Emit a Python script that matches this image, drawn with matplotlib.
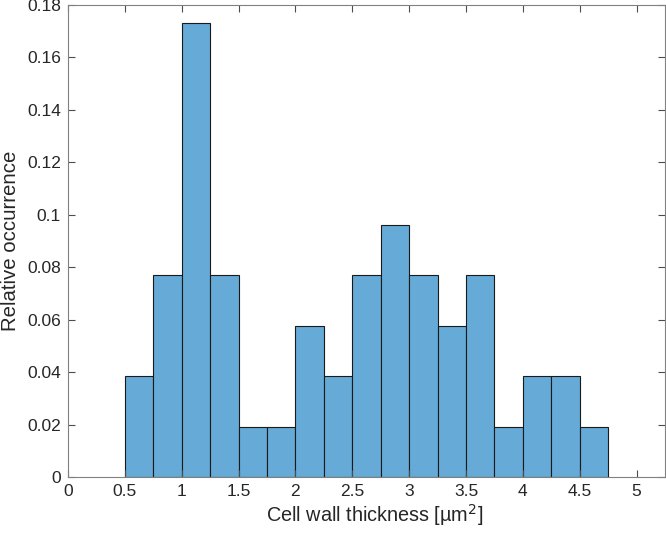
import matplotlib
matplotlib.use("Agg")
import matplotlib.pyplot as plt
import numpy as np

bin_edges = [0.5, 0.75, 1.0, 1.25, 1.5, 1.75, 2.0, 2.25, 2.5, 2.75, 3.0, 3.25, 3.5, 3.75, 4.0, 4.25, 4.5, 4.75]
counts = [2, 4, 9, 4, 1, 1, 3, 2, 4, 5, 4, 3, 4, 1, 2, 2, 1]
total = sum(counts)
rel = [c / total for c in counts]

x_ticks = [0, 0.5, 1, 1.5, 2, 2.5, 3, 3.5, 4, 4.5, 5]
x_ticklabels = ["0", "0.5", "1", "1.5", "2", "2.5", "3", "3.5", "4", "4.5", "5"]
y_ticks = [0, 0.02, 0.04, 0.06, 0.08, 0.1, 0.12, 0.14, 0.16, 0.18]
y_ticklabels = ["0", "0.02", "0.04", "0.06", "0.08", "0.1", "0.12", "0.14", "0.16", "0.18"]

plt.rcParams['font.family'] = ['Liberation Sans', 'DejaVu Sans']

fig = plt.figure(figsize=(6.66, 5.36), dpi=100)
ax = fig.add_axes([68/666, (536-477)/536, (665-68)/666, (477-5)/536])

lefts = bin_edges[:-1]
widths = np.diff(bin_edges)
ax.bar(lefts, rel, width=widths, align='edge', color='#66AAD7',
       edgecolor='#1a1a1a', linewidth=0.8)

ax.set_xlim(0, 5.25)
ax.set_ylim(0, 0.18)
ax.set_xticks(x_ticks)
ax.set_xticklabels(x_ticklabels)
ax.set_yticks(y_ticks)
ax.set_yticklabels(y_ticklabels)

gray = '#262626'
for s in ax.spines.values():
    s.set_color('#808080')
    s.set_linewidth(0.8)
ax.tick_params(direction='in', top=True, right=True, length=5, width=0.8,
               color='#4d4d4d', labelsize=12.5, labelcolor=gray, pad=5)

ax.set_xlabel('Cell wall thickness [µm$^2$]', fontsize=14.3, color=gray, labelpad=2, x=0.513)
ax.set_ylabel('Relative occurrence', fontsize=14.7, color=gray, labelpad=5)

fig.savefig('out.png', dpi=100)
